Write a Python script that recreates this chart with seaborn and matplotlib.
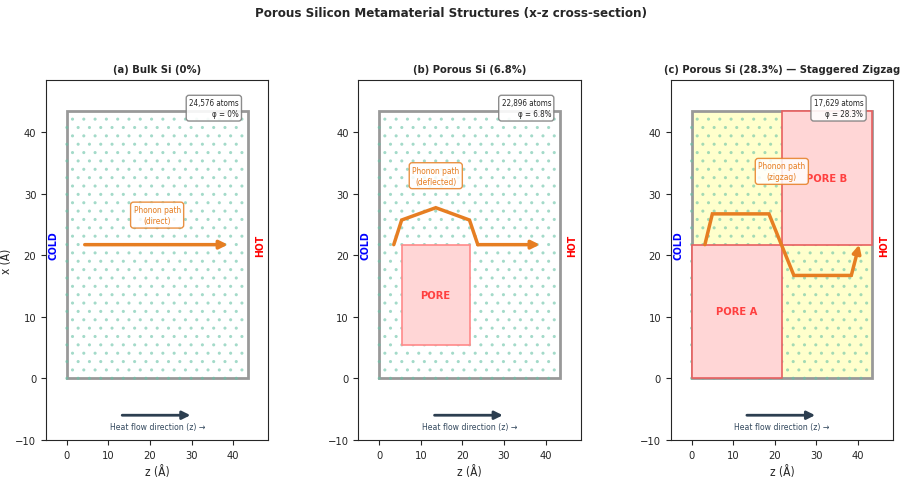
import numpy as np
import pandas as pd
import seaborn as sns
import matplotlib.pyplot as plt
from matplotlib import font_manager as fm
from matplotlib.patches import Rectangle

# --- data ---------------------------------------------------------------
titles = ["(a) Bulk Si (0%)", "(b) Porous Si (6.8%)",
          "(c) Porous Si (28.3%) — Staggered Zigzag"]
atom_counts = ["24,576", "22,896", "17,629"]
porosity = ["0%", "6.8%", "28.3%"]
path_labels = ["Phonon path\n(direct)", "Phonon path\n(deflected)", "Phonon path\n(zigzag)"]
path_label_z = [21.7, 13.6, 21.7]
path_label_x = [26.5, 32.9, 33.6]

a_si = 5.43          # Si lattice constant (Å)
n_cells = 8          # cells along each edge
L = a_si * n_cells   # 43.44 Å

# pores: (z0, x0, width, height, label)
pores = [
    [],
    [(5.43, 5.43, 16.29, 16.29, "PORE")],
    [(0.0, 0.0, 21.72, 21.72, "PORE A"), (21.72, 21.72, 21.72, 21.72, "PORE B")],
]

# phonon paths (z, x); the last segment is drawn as an arrow
path_z = [[4.3, 38.7],
          [3.5, 5.4, 13.6, 21.7, 23.7, 38.6],
          [3.2, 5.0, 18.6, 24.6, 38.4, 40.3]]
path_x = [[21.7, 21.7],
          [21.7, 25.7, 27.7, 25.7, 21.7, 21.7],
          [21.7, 26.7, 26.7, 16.7, 16.7, 21.7]]

# --- lattice sites in the x-z projection ---------------------------------
ii, jj = np.meshgrid(np.arange(2 * n_cells), np.arange(4 * n_cells))
lat = pd.DataFrame({"z": ((ii + 0.5 * (jj % 2)) * a_si / 2).ravel(),
                    "x": (jj * a_si / 4).ravel()})

orange = "#e67e22"
sns.set_style("ticks")

# condensed face if available (reference text is narrow)
fonts = fm.fontManager.ttflist
plt.rcParams["font.family"] = ["DejaVu Sans"]
if any(f.name == "DejaVu Sans" and "condensed" in str(f.stretch) for f in fonts):
    plt.rcParams["font.stretch"] = "condensed"

fig, axes = plt.subplots(1, 3, figsize=(9.03, 4.85), dpi=100)
fig.subplots_adjust(left=0.051, right=0.989, bottom=0.091, top=0.833, wspace=0.405)

for k, ax in enumerate(axes):
    box_fc = "#ffffcc" if k == 2 else "white"
    ax.add_patch(Rectangle((0, 0), L, L, fc=box_fc, ec="#999999", lw=2, zorder=0))

    keep = np.ones(len(lat), bool)
    for (z0, x0, w, h, _) in pores[k]:
        inside = (lat.z > z0) & (lat.z < z0 + w) & (lat.x > x0) & (lat.x < x0 + h)
        keep &= ~inside.values
    sns.scatterplot(data=lat[keep], x="z", y="x", ax=ax, s=5, color="#66c2a5",
                    alpha=0.6, edgecolor="none", zorder=1, legend=False)

    for (z0, x0, w, h, lab) in pores[k]:
        ec = "#ff8a8a" if k == 1 else "#e86060"
        ax.add_patch(Rectangle((z0, x0), w, h, fc="#ffd6d6", ec=ec, lw=1.2, zorder=2))
        ax.text(z0 + w / 2, x0 + h / 2, lab, color="#ff4040", fontsize=8,
                fontweight="bold", ha="center", va="center", zorder=3)

    pz, px = path_z[k], path_x[k]
    if len(pz) > 2:
        ax.plot(pz[:-1], px[:-1], color=orange, lw=2.5, zorder=4,
                solid_joinstyle="miter")
    ax.annotate("", xy=(pz[-1], px[-1]), xytext=(pz[-2], px[-2]),
                arrowprops=dict(arrowstyle="-|>", color=orange, lw=2.5,
                                mutation_scale=12, shrinkA=0, shrinkB=0), zorder=4)
    ax.text(path_label_z[k], path_label_x[k], path_labels[k], color=orange,
            fontsize=6, ha="center", va="center", zorder=5, linespacing=1.3,
            bbox=dict(boxstyle="round,pad=0.35", fc="white", ec=orange, alpha=0.85))

    ax.text(41.3, 45.5, f"{atom_counts[k]} atoms\nφ = {porosity[k]}",
            fontsize=5.8, ha="right", va="top", zorder=6, linespacing=1.3,
            bbox=dict(boxstyle="round,pad=0.35", fc="white", ec="gray", alpha=0.9))

    ax.text(-3.2, L / 2, "COLD", color="blue", fontsize=7.5, fontweight="bold",
            rotation=90, ha="center", va="center")
    ax.text(46.4, L / 2, "HOT", color="red", fontsize=7.5, fontweight="bold",
            rotation=90, ha="center", va="center")

    ax.annotate("", xy=(29.7, -6), xytext=(13.3, -6),
                arrowprops=dict(arrowstyle="-|>", color="#2c3e50", lw=2,
                                mutation_scale=12, shrinkA=0, shrinkB=0))
    ax.text(L / 2, -7.9, "Heat flow direction (z) →", color="#34495e",
            fontsize=6.2, ha="center", va="center")

    ax.set_xlim(-5, L + 5)
    ax.set_ylim(-10, L + 5)
    ax.set_xticks([0, 10, 20, 30, 40])
    ax.set_yticks([-10, 0, 10, 20, 30, 40])
    ax.tick_params(labelsize=8)
    ax.set_xlabel("z (Å)", fontsize=8.5)
    if k == 0:
        ax.set_ylabel("x (Å)", fontsize=8.5)
        ax.yaxis.set_label_coords(-0.15, 0.5)
    else:
        ax.set_ylabel("")
    ax.set_title(titles[k], fontsize=8, fontweight="bold")

fig.suptitle("Porous Silicon Metamaterial Structures (x-z cross-section)",
             fontsize=9.5, fontweight="bold", y=0.985)
fig.savefig("out.png", dpi=100)
